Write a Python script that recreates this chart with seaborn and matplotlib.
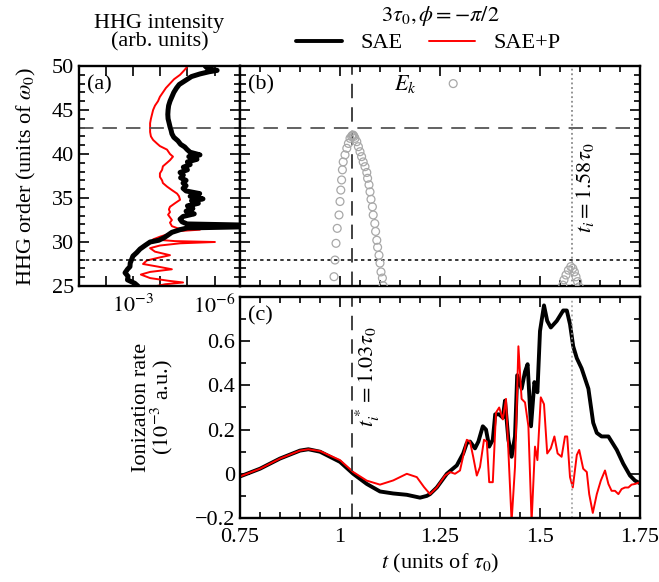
import numpy as np
import pandas as pd
import matplotlib
matplotlib.use("Agg")
import matplotlib.pyplot as plt
import seaborn as sns
from matplotlib.ticker import FixedLocator, MultipleLocator, NullLocator, FuncFormatter

# ---------------- data ----------------
# panel (a): HHG spectra, harmonic order vs log10(intensity)
sae_order = [25.0, 25.3, 25.7, 26.1, 26.5, 26.9, 27.2, 27.6, 28.0, 28.4, 28.8, 29.2, 29.6, 30.0,
             30.2, 30.5, 30.8, 31.1, 31.4, 31.6, 31.75, 31.9, 32.05, 32.3, 32.6, 32.9, 33.2, 33.5,
             33.8, 34.1, 34.4, 34.7, 34.9, 35.2, 35.5, 35.8, 36.1, 36.4, 36.7, 37.0, 37.3, 37.6,
             37.9, 38.2, 38.5, 38.8, 39.1, 39.4, 39.7, 39.9, 40.2, 40.5, 40.8, 41.1, 41.5, 41.9,
             42.3, 42.7, 43.1, 43.5, 44.0, 44.5, 45.0, 45.5, 46.0, 46.5, 47.0, 47.5, 47.9, 48.2,
             48.5, 48.8, 49.1, 49.35, 49.5, 49.7, 50.0]
sae_log10 = [-3.18, -3.07, -2.80, -2.82, -2.71, -2.80, -2.89, -2.90, -2.95, -3.00, -3.14, -3.26, -3.44, -3.63,
             -3.95, -4.15, -4.29, -4.43, -4.73, -5.00, -7.50, -7.50, -4.99, -4.80, -4.73, -4.84, -5.25, -4.95,
             -5.20, -5.00, -5.40, -5.15, -5.57, -5.10, -5.45, -4.95, -4.84, -4.95, -4.84, -4.95, -4.75, -4.85,
             -4.73, -5.00, -4.85, -5.10, -5.00, -5.35, -5.05, -5.46, -5.10, -4.99, -4.90, -4.75, -4.65, -4.50,
             -4.43, -4.40, -4.36, -4.33, -4.29, -4.28, -4.29, -4.31, -4.36, -4.43, -4.50, -4.60, -4.70, -4.85,
             -5.00, -5.15, -5.46, -5.80, -6.09, -5.75, -5.65]

saep_order = [25.0, 25.2, 25.4, 25.6, 25.9, 26.3, 26.6, 26.9, 27.2, 27.5, 27.9, 28.2, 28.5, 28.9, 29.3,
              29.6, 29.85, 30.0, 30.1, 30.3, 30.6, 30.9, 31.2, 31.4, 31.55, 31.8, 32.2, 32.5, 32.8, 33.1,
              33.4, 33.7, 34.0, 34.4, 34.8, 35.2, 35.5, 35.9, 36.3, 36.7, 37.0, 37.4, 37.8, 38.2, 38.6,
              39.0, 39.3, 39.7, 40.0, 40.5, 40.9, 41.2, 41.6, 42.0, 42.5, 43.0, 43.5, 44.0, 44.5, 45.0,
              45.5, 46.0, 46.5, 47.0, 47.5, 48.0, 48.5, 49.0, 49.5, 49.9]
saep_log10 = [-3.88, -4.18, -4.84, -4.29, -3.63, -3.29, -3.63, -4.43, -3.92, -3.37, -3.51, -3.92, -4.36, -3.81, -3.63,
              -3.99, -4.73, -6.01, -4.54, -3.74, -3.99, -4.29, -4.47, -5.46, -4.65, -4.43, -4.36, -4.43, -4.36, -4.29,
              -4.36, -4.32, -4.36, -4.54, -4.73, -4.69, -4.62, -4.43, -4.25, -4.10, -4.07, -3.99, -3.99, -4.07, -4.10,
              -4.25, -4.36, -4.47, -4.36, -4.25, -3.99, -3.88, -3.74, -3.66, -3.63, -3.63, -3.63, -3.66, -3.70, -3.74,
              -3.81, -3.92, -3.99, -4.10, -4.21, -4.36, -4.51, -4.73, -4.88, -4.99]

# panel (b): classical return energies E_k (harmonic order) vs ionization time
ek_time = [1.025, 1.021, 1.017, 1.0125, 1.008, 1.006, 1.004, 1.002, 1.000, 0.9975, 0.993, 0.990, 0.9875, 0.985,
           1.029, 1.031, 1.033, 1.035,
           1.0375, 1.042, 1.046, 1.050, 1.054, 1.058, 1.0625, 1.067, 1.069, 1.0725, 1.075, 1.0775, 1.081, 1.083,
           1.087, 1.089, 1.092, 1.094, 1.0975, 1.100, 1.1025, 1.106, 1.108,
           1.283,
           1.571, 1.565, 1.560, 1.557, 1.577, 1.582, 1.586, 1.590, 1.594, 1.598]
ek_order = [41.78, 41.2, 40.65, 39.9, 39.1, 38.2, 37.05, 35.9, 34.6, 33.07, 31.55, 29.85, 27.95, 26.06,
            42.0, 42.12, 42.15, 42.0,
            41.78, 41.4, 40.83, 40.26, 39.7, 39.1, 38.56, 37.9, 37.24, 36.5, 35.7, 34.85, 34.0, 33.07,
            32.1, 31.2, 30.2, 29.4, 28.5, 27.6, 26.6, 25.9, 25.03,
            48.0,
            26.8, 26.25, 25.7, 25.1, 27.2, 27.0, 26.6, 26.05, 25.5, 24.9]

# panel (c): ionization rate (10^-3 a.u.) vs time (units of tau0)
sae_t = [0.75, 0.80, 0.85, 0.90, 0.921, 0.95, 1.00, 1.033, 1.067, 1.10, 1.133, 1.167, 1.20, 1.217,
         1.225, 1.242, 1.267, 1.292, 1.308, 1.317, 1.325, 1.3375, 1.346, 1.357, 1.365, 1.373, 1.382,
         1.388, 1.398, 1.407, 1.4125, 1.421, 1.429, 1.4375, 1.443, 1.454, 1.4625, 1.469, 1.4775, 1.486,
         1.4935, 1.500, 1.510, 1.518, 1.527, 1.542, 1.558, 1.567, 1.575, 1.583, 1.592, 1.604, 1.621,
         1.633, 1.642, 1.654, 1.671, 1.692, 1.708, 1.725, 1.7375, 1.75]
sae_rate = [-0.012, 0.023, 0.069, 0.105, 0.111, 0.100, 0.054, 0.000, -0.046, -0.080, -0.089, -0.095, -0.108, -0.100,
            -0.092, -0.062, 0.000, 0.038, 0.092, 0.139, 0.146, 0.115, 0.146, 0.215, 0.200, 0.123, 0.154,
            0.269, 0.269, 0.254, 0.331, 0.154, 0.077, 0.169, 0.446, 0.385, 0.462, 0.496, 0.215, 0.415,
            0.369, 0.646, 0.762, 0.692, 0.662, 0.692, 0.739, 0.739, 0.677, 0.577, 0.523, 0.477, 0.385,
            0.231, 0.185, 0.169, 0.169, 0.108, 0.046, -0.008, -0.031, -0.043]

saep_t = [0.75, 0.80, 0.85, 0.90, 0.921, 0.95, 1.00, 1.033, 1.067, 1.10, 1.133, 1.167, 1.192, 1.21,
          1.225, 1.242, 1.2625, 1.275, 1.2875, 1.300, 1.317, 1.325, 1.333, 1.342, 1.350, 1.360, 1.367,
          1.373, 1.382, 1.390, 1.398, 1.407, 1.415, 1.429, 1.4375, 1.446, 1.454, 1.4625, 1.471, 1.479,
          1.4875, 1.4935, 1.502, 1.510, 1.518, 1.527, 1.536, 1.544, 1.554, 1.5625, 1.568, 1.575, 1.582,
          1.592, 1.598, 1.608, 1.617, 1.623, 1.632, 1.642, 1.652, 1.6625, 1.671, 1.679, 1.6875, 1.696,
          1.704, 1.7125, 1.721, 1.729, 1.7375, 1.75]
saep_rate = [-0.012, 0.023, 0.069, 0.105, 0.111, 0.103, 0.062, 0.008, -0.031, -0.049, -0.030, 0.000, -0.015, -0.060,
             -0.092, -0.062, -0.008, 0.008, 0.000, 0.015, 0.154, 0.146, 0.077, -0.008, 0.031, 0.154, 0.146,
             -0.038, -0.038, 0.277, 0.300, 0.246, 0.339, -0.216, 0.031, 0.577, 0.339, 0.323, 0.215, -0.216,
             0.123, 0.062, 0.346, 0.315, 0.092, 0.115, 0.169, 0.092, 0.077, 0.169, 0.169, -0.015, -0.062,
             0.085, 0.108, 0.023, 0.008, -0.092, -0.177, -0.092, -0.031, 0.015, -0.046, -0.077, -0.077, -0.092,
             -0.069, -0.062, -0.062, -0.049, -0.046, -0.038]

t_cut = 1.03      # t_i^*
t_ion = 1.58      # t_i
order_cutoff = 43
order_ip = 28

# ---------------- style ----------------
sns.set_theme(style="ticks")
plt.rcParams["font.family"] = ["Liberation Serif", "DejaVu Serif"]
plt.rcParams["mathtext.fontset"] = "stix"
plt.rcParams["font.size"] = 16
plt.rcParams["axes.linewidth"] = 1.7
plt.rcParams["axes.edgecolor"] = "black"
plt.rcParams["xtick.color"] = "black"
plt.rcParams["ytick.color"] = "black"
plt.rcParams["text.color"] = "black"
plt.rcParams["axes.labelcolor"] = "black"

FS = 16
fig = plt.figure(figsize=(6.59, 5.82), dpi=100)
W, H = 659.0, 582.0
def box(l, t, r, b):
    return [l / W, 1 - b / H, (r - l) / W, (b - t) / H]

ax_a = fig.add_axes(box(79, 66, 240, 286))
ax_b = fig.add_axes(box(240, 66, 640, 286))
ax_c = fig.add_axes(box(240, 297, 640, 518))

def style_ticks(ax):
    ax.tick_params(which="both", direction="in", top=True, right=True, bottom=True, left=True,
                   labelsize=FS, width=1.2, color="black")
    ax.tick_params(which="major", length=7)
    ax.tick_params(which="minor", length=4)

# ---- panel (a)
dfa1 = pd.DataFrame({"I": 10 ** np.array(sae_log10), "order": sae_order})
dfa2 = pd.DataFrame({"I": 10 ** np.array(saep_log10), "order": saep_order})
sns.lineplot(data=dfa2, x="I", y="order", sort=False, estimator=None, color="#ff0000", lw=1.4, ax=ax_a)
sns.lineplot(data=dfa1, x="I", y="order", sort=False, estimator=None, color="black", lw=3.6, ax=ax_a)
ax_a.set_xscale("log")
ax_a.set_xlim(10 ** -1.02, 10 ** -6.93)
ax_a.set_ylim(25, 50)
ax_a.xaxis.set_major_locator(FixedLocator([10.0 ** -k for k in range(1, 8)]))
ax_a.xaxis.set_minor_locator(NullLocator())
ax_a.xaxis.set_major_formatter(FuncFormatter(
    lambda v, p: {3: r"$10^{-3}$", 6: r"$10^{-6}$"}.get(int(round(-np.log10(v))), "")))
ax_a.yaxis.set_major_locator(MultipleLocator(5))
ax_a.yaxis.set_minor_locator(MultipleLocator(1))
style_ticks(ax_a)
ax_a.tick_params(axis="x", pad=6)
ax_a.axhline(order_cutoff, color="#555555", lw=1.3, dashes=(8, 5))
ax_a.axhline(order_ip, color="black", lw=1.1, dashes=(2.2, 2.2))
ax_a.set_xlabel("")
ax_a.set_ylabel(r"HHG order (units of $\omega_0$)", fontsize=FS, labelpad=10)
ax_a.text(0.05, 0.96, "(a)", transform=ax_a.transAxes, va="top", ha="left", fontsize=FS)
ax_a.set_title("HHG intensity\n(arb. units)", fontsize=FS, pad=14, linespacing=0.95)

# ---- panel (b)
dfb = pd.DataFrame({"t": ek_time, "order": ek_order})
sns.scatterplot(data=dfb, x="t", y="order", marker="o", s=32, facecolor="none",
                edgecolor="#a8a8a8", linewidth=0.9, ax=ax_b, zorder=3)
ax_b.set_xlim(0.75, 1.75)
ax_b.set_ylim(25, 50)
ax_b.xaxis.set_major_locator(MultipleLocator(0.25))
ax_b.xaxis.set_minor_locator(MultipleLocator(0.05))
ax_b.yaxis.set_major_locator(MultipleLocator(5))
ax_b.yaxis.set_minor_locator(MultipleLocator(1))
style_ticks(ax_b)
ax_b.tick_params(labelbottom=False, labelleft=False)
ax_b.axhline(order_cutoff, color="#555555", lw=1.3, dashes=(8, 5))
ax_b.axhline(order_ip, color="black", lw=1.1, dashes=(2.2, 2.2))
ax_b.axvline(t_cut, color="#333333", lw=1.3, dashes=(8, 5))
ax_b.axvline(t_ion, color="#777777", lw=1.1, dashes=(1.2, 1.8))
ax_b.set_xlabel("")
ax_b.set_ylabel("")
ax_b.text(0.02, 0.96, "(b)", transform=ax_b.transAxes, va="top", ha="left", fontsize=FS)
ax_b.text(1.1625, 48.0, r"$E_k$", fontsize=FS, ha="center", va="center")
ax_b.text(1.612, 36.2, r"$t_i = 1.58\tau_0$", rotation=90, fontsize=FS, ha="center", va="center")

# ---- panel (c)
dfc1 = pd.DataFrame({"t": sae_t, "rate": sae_rate})
dfc2 = pd.DataFrame({"t": saep_t, "rate": saep_rate})
sns.lineplot(data=dfc1, x="t", y="rate", sort=False, estimator=None, color="black", lw=2.8, ax=ax_c, label="SAE")
sns.lineplot(data=dfc2, x="t", y="rate", sort=False, estimator=None, color="#ff0000", lw=1.4, ax=ax_c, label="SAE+P")
ax_c.set_xlim(0.75, 1.75)
ax_c.set_ylim(-0.2, 0.8)
ax_c.xaxis.set_major_locator(MultipleLocator(0.25))
ax_c.xaxis.set_minor_locator(MultipleLocator(0.05))
ax_c.yaxis.set_major_locator(MultipleLocator(0.2))
ax_c.yaxis.set_minor_locator(MultipleLocator(0.1))
ax_c.xaxis.set_major_formatter(FuncFormatter(lambda v, p: f"{v:g}"))
ax_c.yaxis.set_major_formatter(FuncFormatter(
    lambda v, p: "" if v > 0.7 else ("0" if abs(v) < 1e-9 else f"{v:.1f}".replace("-", "\u2212"))))
style_ticks(ax_c)
ax_c.tick_params(axis="x", pad=7)
ax_c.axvline(t_cut, color="#333333", lw=1.3, dashes=(8, 5))
ax_c.axvline(t_ion, color="#999999", lw=1.1, dashes=(1.2, 1.8))
ax_c.set_xlabel(r"$t$ (units of $\tau_0$)", fontsize=FS, labelpad=4)
ax_c.set_ylabel("Ionization rate\n" + r"($10^{-3}$ a.u.)", fontsize=FS, labelpad=14, linespacing=0.9)
ax_c.text(0.02, 0.96, "(c)", transform=ax_c.transAxes, va="top", ha="left", fontsize=FS)
ax_c.text(1.07, 0.44, r"$t_i^* = 1.03\tau_0$", rotation=90, fontsize=FS, ha="center", va="center")

handles, labels = ax_c.get_legend_handles_labels()
ax_c.get_legend().remove()
fig.legend(handles, labels, loc="center", bbox_to_anchor=(428 / W, 1 - 43 / H), ncol=2,
           frameon=False, fontsize=FS, handlelength=2.1, handletextpad=0.8, columnspacing=1.2,
           borderpad=0, borderaxespad=0)
fig.text(440 / W, 1 - 16 / H, r"$3\tau_0, \phi = -\pi/2$", ha="center", va="center", fontsize=FS)

fig.savefig("out.png", dpi=100)
